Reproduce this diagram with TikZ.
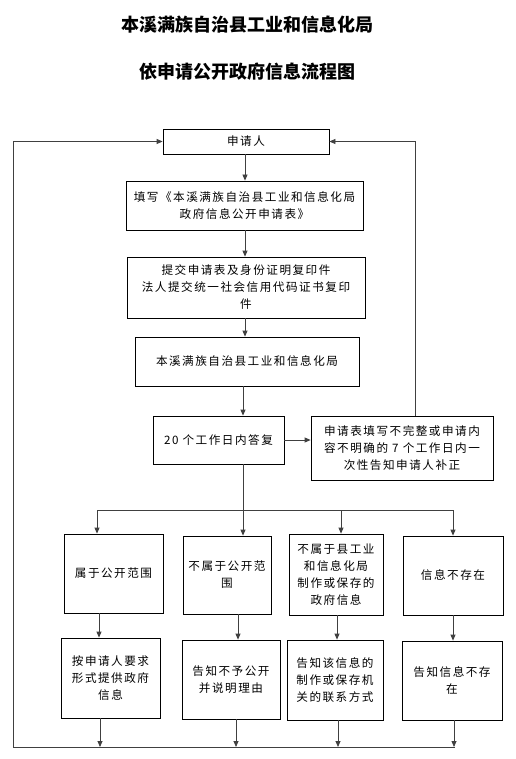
\documentclass[tikz,border=0pt]{standalone}
\usepackage{fontspec}
\newfontfamily\cjk[LetterSpace=13]{Noto Sans CJK SC}
\newfontfamily\cjkt{Noto Sans CJK SC}
\usetikzlibrary{arrows.meta}
\begin{document}
\begin{tikzpicture}[x=1pt,y=-1pt,
  box/.style={draw=black, line width=0.8pt, align=center, inner sep=0pt,
    font=\cjk\fontsize{11.6}{17}\selectfont},
  titlestyle/.style={font=\cjkt\bfseries\fontsize{18}{20}\selectfont, inner sep=0pt},
  arr/.style={-{Triangle[length=6pt,width=5pt]}, line width=0.8pt, draw=black!75},
  ln/.style={line width=0.8pt, draw=black!75}]
\useasboundingbox[fill=white] (0,0) rectangle (515,759);

\node[titlestyle] (t1) at (247,25) {本溪满族自治县工业和信息化局};
\node[titlestyle] (t2) at (247,72) {依申请公开政府信息流程图};

\node[box, minimum width=166, minimum height=25] (apply) at (246,141.5) {申请人};
\node[box, minimum width=237, minimum height=49] (fill) at (244.5,205.5) {填写《本溪满族自治县工业和信息化局\\政府信息公开申请表》};
\node[box, minimum width=238, minimum height=61] (submit) at (246,287.5) {提交申请表及身份证明复印件\\法人提交统一社会信用代码证书复印\\件};
\node[box, minimum width=224, minimum height=49] (bureau) at (247,361.5) {本溪满族自治县工业和信息化局};
\node[box, minimum width=131, minimum height=48] (reply) at (218.5,440) {20 个工作日内答复};
\node[box, minimum width=182, minimum height=64] (notice) at (402,448) {申请表填写不完整或申请内\\容不明确的 7 个工作日内一\\次性告知申请人补正};

\node[box, minimum width=99, minimum height=79] (a1) at (113.5,573.5) {属于公开范围};
\node[box, minimum width=88, minimum height=78] (b1) at (227,575) {不属于公开范\\围};
\node[box, minimum width=94, minimum height=81] (c1) at (336,574.5) {不属于县工业\\和信息化局\\制作或保存的\\政府信息};
\node[box, minimum width=100, minimum height=79] (d1) at (453,575.5) {信息不存在};

\node[box, minimum width=99, minimum height=80] (a2) at (110.5,678) {按申请人要求\\形式提供政府\\信息};
\node[box, minimum width=98, minimum height=79] (b2) at (231,679.5) {告知不予公开\\并说明理由};
\node[box, minimum width=96, minimum height=80] (c2) at (335,680) {告知该信息的\\制作或保存机\\关的联系方式};
\node[box, minimum width=100, minimum height=79] (d2) at (452,680.5) {告知信息不存\\在};

% helper coordinates
\coordinate (xr) at (243,0);
\coordinate (xloopR) at (415,0);
\coordinate (branchL) at (97,510);
\coordinate (branchM) at (243,510);
\coordinate (branchC) at (341,510);
\coordinate (branchR) at (453,510);
\coordinate (botR) at (455,747);
\coordinate (botL) at (13,747);
\coordinate (ba) at (100,747);
\coordinate (bb) at (236,747);
\coordinate (bc) at (338,747);
\coordinate (bd) at (454,747);

% main chain
\draw[arr] (apply.south -| 245,0) -- (fill.north -| 245,0);
\draw[arr] (fill.south -| 245,0) -- (submit.north -| 245,0);
\draw[arr] (submit.south -| 245,0) -- (bureau.north -| 245,0);
\draw[arr] (bureau.south -| xr) -- (reply.north -| xr);
\draw[arr] (reply.east) -- (reply.east -| notice.west);
\draw[arr] (notice.north -| xloopR) |- (apply.east);

% branching
\draw[ln] (reply.south -| xr) -- (branchM);
\draw[ln] (branchL) -- (branchR);
\draw[arr] (branchL) -- (a1.north -| branchL);
\draw[arr] (branchM) -- (b1.north -| branchM);
\draw[arr] (branchC) -- (c1.north -| branchC);
\draw[arr] (branchR) -- (d1.north -| branchR);

% row 1 to row 2
\draw[arr] (a1.south -| 99,0) -- (a2.north -| 99,0);
\draw[arr] (b1.south -| 238,0) -- (b2.north -| 238,0);
\draw[arr] (c1.south -| 337,0) -- (c2.north -| 337,0);
\draw[arr] (d1.south -| 453,0) -- (d2.north -| 453,0);

% row 2 to bottom line
\draw[arr] (a2.south -| ba) -- (ba);
\draw[arr] (b2.south -| bb) -- (bb);
\draw[arr] (c2.south -| bc) -- (bc);
\draw[arr] (d2.south -| bd) -- (bd);

% loop back
\draw[arr] (botR) -- (botL) |- (apply.west);
\end{tikzpicture}
\end{document}
